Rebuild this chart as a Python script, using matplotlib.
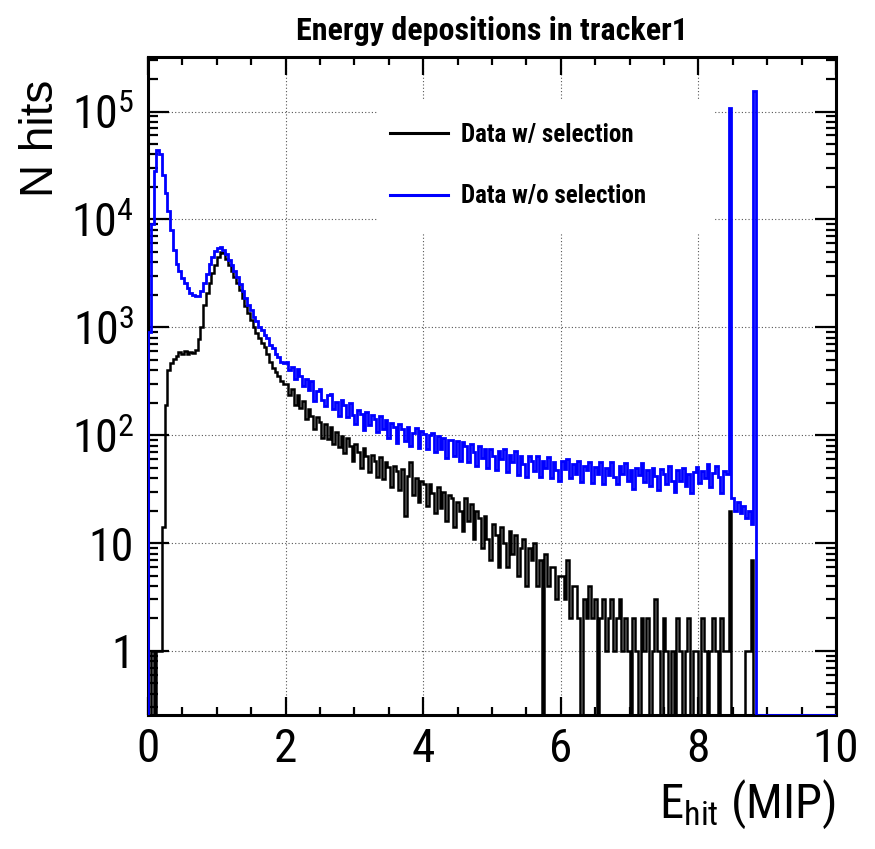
import numpy as np
import matplotlib
matplotlib.use("Agg")
import matplotlib.pyplot as plt
from matplotlib import font_manager
from matplotlib.lines import Line2D
from matplotlib.patches import Rectangle
from matplotlib.ticker import FixedLocator, MultipleLocator, LogLocator, NullFormatter

# ---------------- data ----------------
bin_width = 0.04  # MIP per bin, bins start at 0

# "Data w/ selection" (black)
counts_sel = [
    0, 1, 0, 1, 1, 14, 190, 400, 470, 510,
    540, 590, 570, 600, 560, 590, 580, 610, 780, 1000,
    1600, 2100, 2600, 3200, 3800, 4500, 5000, 4850, 4300, 3800,
    3300, 2900, 2550, 2200, 1850, 1560, 1350, 1180, 1000, 880,
    790, 720, 650, 560, 480, 420, 385, 350, 320, 295,
    300, 236, 268, 192, 236, 180, 206, 140, 176, 152,
    114, 146, 132, 94, 126, 92, 118, 82, 106, 78,
    98, 68, 94, 80, 58, 82, 70, 50, 76, 64,
    46, 66, 58, 41, 63, 39, 57, 51, 33, 52,
    47, 31, 49, 18, 42, 56, 28, 40, 24, 38,
    35, 22, 35, 29, 19, 33, 21, 30, 16, 28,
    26, 14, 24, 20, 13, 26, 16, 23, 11, 20,
    17, 9, 18, 11, 7, 15, 12, 6, 14, 10,
    6, 13, 8, 12, 5, 9, 11, 4, 9, 7,
    10, 4, 7, 0, 8, 4, 6, 6, 3, 5,
    5, 3, 7, 2, 4, 4, 2, 0, 3, 2,
    4, 2, 3, 0, 2, 3, 1, 2, 3, 1,
    2, 3, 1, 2, 1, 0, 2, 1, 0, 2,
    1, 2, 0, 1, 3, 1, 0, 2, 1, 0,
    1, 0, 2, 1, 0, 1, 2, 0, 1, 1,
    0, 2, 1, 0, 1, 2, 1, 0, 2, 1,
    1, 20, 0, 0, 0, 0, 0, 1, 1, 7,
    0, 0, 0, 0, 0, 0, 0, 0, 0, 0,
    0, 0, 0, 0, 0, 0, 0, 0, 0, 0,
    0, 0, 0, 0, 0, 0, 0, 0, 0, 0,
]

# "Data w/o selection" (blue)
counts_nosel = [
    900, 9000, 28000, 44000, 40000, 26000, 17500, 12000, 8000, 5200,
    3900, 3300, 2850, 2550, 2300, 2100, 1980, 1930, 1950, 2150,
    2550, 3100, 3900, 4500, 5100, 5450, 5550, 5250, 4800, 4200,
    3750, 3300, 2950, 2500, 2150, 1850, 1600, 1440, 1250, 1150,
    1000, 950, 840, 790, 690, 640, 560, 530, 480, 462,
    475, 398, 425, 335, 410, 350, 285, 330, 262, 320,
    208, 255, 268, 212, 186, 238, 240, 176, 204, 152,
    212, 190, 148, 198, 154, 126, 170, 158, 112, 165,
    124, 154, 140, 106, 152, 114, 138, 94, 130, 118,
    84, 126, 114, 88, 120, 80, 104, 116, 76, 110,
    102, 74, 100, 104, 70, 98, 74, 95, 62, 90,
    90, 64, 88, 58, 86, 80, 57, 82, 70, 52,
    80, 62, 75, 50, 74, 64, 48, 72, 60, 74,
    46, 66, 57, 72, 43, 64, 54, 41, 64, 58,
    47, 64, 41, 58, 50, 63, 40, 56, 48, 38,
    58, 49, 60, 40, 54, 44, 58, 37, 52, 48,
    56, 36, 51, 44, 56, 35, 50, 43, 56, 41,
    35, 52, 44, 55, 38, 48, 32, 50, 43, 55,
    37, 48, 34, 50, 42, 31, 49, 44, 35, 52,
    38, 30, 48, 38, 50, 34, 44, 29, 46, 51,
    36, 47, 40, 54, 33, 45, 52, 41, 29, 47,
    44, 108000, 26, 20, 24, 19, 22, 17, 20, 15,
    155000, 0, 0, 0, 0, 0, 0, 0, 0, 0,
    0, 0, 0, 0, 0, 0, 0, 0, 0, 0,
    0, 0, 0, 0, 0, 0, 0, 0, 0, 0,
]

series_labels = ["Data w/ selection", "Data w/o selection"]
series_colors = ["black", "#0000ff"]
title_text = "Energy depositions in tracker1"
x_label = r"$\mathrm{E}_{\mathrm{hit}}$ (MIP)"
y_label = "N hits"
x_ticks = [0, 2, 4, 6, 8, 10]
x_tick_labels = ["0", "2", "4", "6", "8", "10"]
y_ticks = [1, 10, 100, 1000, 10000, 100000]
y_tick_labels = ["1", "10", r"$10^{2}$", r"$10^{3}$", r"$10^{4}$", r"$10^{5}$"]

# ---------------- fonts ----------------
installed = {f.name for f in font_manager.fontManager.ttflist}
narrow = "Liberation Sans"
for pref in ["Nimbus Sans Narrow", "Liberation Sans Narrow", "Arial Narrow", "Roboto Condensed"]:
    if pref in installed:
        narrow = pref
        break
NARROW = [narrow, "DejaVu Sans"]
WIDE = ["Liberation Sans", "DejaVu Sans"]
plt.rcParams["font.family"] = NARROW
plt.rcParams["mathtext.fontset"] = "custom"
plt.rcParams["mathtext.rm"] = narrow
plt.rcParams["mathtext.it"] = narrow + ":italic"
plt.rcParams["mathtext.bf"] = narrow + ":bold"

# ---------------- figure ----------------
W, H = 875, 849
fig = plt.figure(figsize=(W / 100, H / 100), dpi=100)
L, R, T, B = 148, 836, 57, 715
ax = fig.add_axes([L / W, 1 - B / H, (R - L) / W, (B - T) / H])

ymin, ymax = 0.255, 3.2e5
xmin, xmax = 0.0, 10.0

edges = np.arange(len(counts_sel) + 1) * bin_width
for counts, color, lw in zip([counts_sel, counts_nosel], series_colors, [1.8, 2.0]):
    vals = np.asarray(counts, dtype=float)
    vals = np.where(vals > 0, vals, ymin)
    ax.stairs(vals, edges, baseline=ymin, color=color, linewidth=lw, zorder=3)

ax.set_yscale("log")
ax.set_xlim(xmin, xmax)
ax.set_ylim(ymin, ymax)

ax.xaxis.set_major_locator(FixedLocator(x_ticks))
ax.set_xticklabels(x_tick_labels)
ax.xaxis.set_minor_locator(MultipleLocator(0.5))
ax.yaxis.set_major_locator(FixedLocator(y_ticks))
ax.set_yticklabels(y_tick_labels)
ax.yaxis.set_minor_locator(LogLocator(base=10, subs=np.arange(2, 10), numticks=20))
ax.yaxis.set_minor_formatter(NullFormatter())

ax.tick_params(which="both", direction="in", top=True, right=True, width=1.6, colors="black")
ax.tick_params(axis="x", which="major", length=13, pad=9, labelsize=34)
ax.tick_params(axis="x", which="minor", length=6)
ax.tick_params(axis="y", which="major", length=15, pad=10, labelsize=33)
ax.tick_params(axis="y", which="minor", length=7.5)
for sp in ax.spines.values():
    sp.set_linewidth(2.2)

ax.set_axisbelow(True)
ax.grid(True, which="major", color="#555555", linestyle=(0, (1, 2)), linewidth=0.8)

# white legend box hiding the grid, then the legend itself
ax.add_patch(Rectangle((0.333, 0.7325), 0.488, 0.2025, transform=ax.transAxes,
                       facecolor="white", edgecolor="none", zorder=1))
handles = [Line2D([], [], color=c, linewidth=2.2) for c in series_colors]
ax.legend(handles, series_labels, loc="center left", bbox_to_anchor=(0.352, 0.835),
          frameon=False, prop=dict(family=NARROW, weight="bold", size=18),
          handlelength=2.3, handletextpad=0.55, labelspacing=1.5,
          borderpad=0, borderaxespad=0)

ax.set_title(title_text, fontsize=23, fontweight="bold", pad=12)
ax.set_xlabel(x_label, loc="right", fontsize=35)
ax.xaxis.set_label_coords(1.0, -0.0957)
ax.set_ylabel(y_label, loc="top", fontsize=33, family=WIDE)
ax.yaxis.set_label_coords(-0.1235, 0.965)

fig.savefig("out.png", dpi=100, facecolor="white")
